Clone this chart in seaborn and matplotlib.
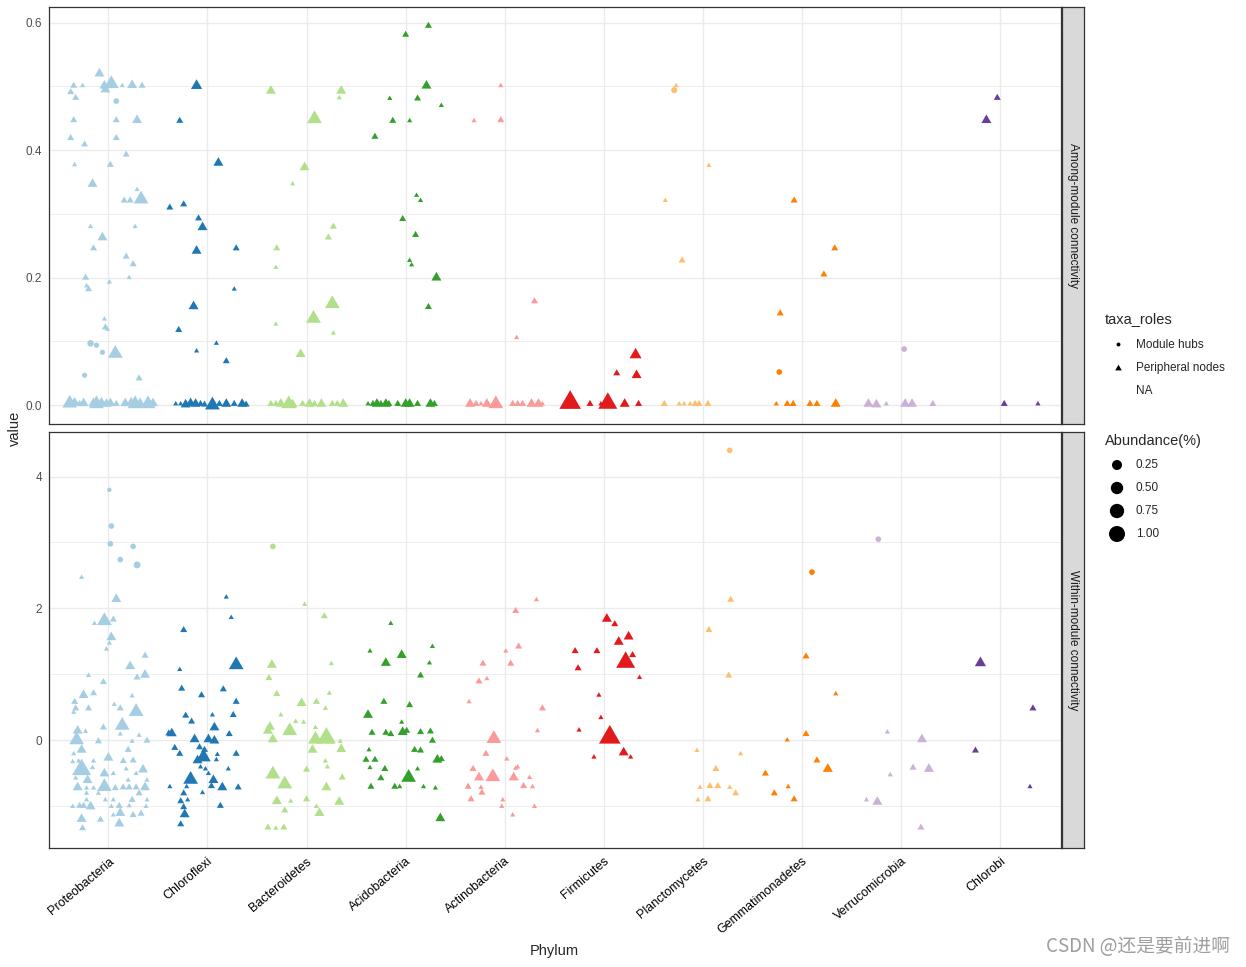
import matplotlib
matplotlib.use("Agg")
import matplotlib.pyplot as plt
from matplotlib.path import Path
import seaborn as sns
import pandas as pd

PHYLA = ["Proteobacteria", "Chloroflexi", "Bacteroidetes", "Acidobacteria",
         "Actinobacteria", "Firmicutes", "Planctomycetes", "Gemmatimonadetes",
         "Verrucomicrobia", "Chlorobi"]
FACETS = ["Among-module connectivity", "Within-module connectivity"]
ROLES = ["Module hubs", "Peripheral nodes", "NA"]
SIZE_BREAKS = [0.25, 0.50, 0.75, 1.00]

# abundance levels
T, S, M, L, XL, H = 0.03, 0.08, 0.19, 0.45, 0.77, 1.05

# peripheral nodes: (jitter, value, abundance)
AMONG_PROTEO = [
    (-0.09, 0.520, M), (-0.35, 0.501, S), (-0.26, 0.501, T), (-0.04, 0.501, M),
    (0.03, 0.504, L), (-0.03, 0.495, M), (0.14, 0.501, T), (0.24, 0.502, M),
    (0.34, 0.501, S), (-0.38, 0.491, S), (-0.33, 0.482, S), (-0.35, 0.447, S),
    (0.08, 0.447, S), (0.29, 0.447, M), (-0.38, 0.419, S), (0.08, 0.419, S),
    (-0.24, 0.409, S), (0.18, 0.393, S), (-0.34, 0.377, T), (0.02, 0.377, S),
    (-0.16, 0.347, M), (0.29, 0.338, T), (0.16, 0.321, S), (0.22, 0.321, S),
    (0.33, 0.323, L), (-0.18, 0.280, T), (0.27, 0.280, T), (-0.06, 0.263, M),
    (-0.15, 0.246, S), (0.18, 0.233, S), (0.25, 0.221, S), (-0.23, 0.200, S),
    (0.21, 0.200, T), (-0.22, 0.187, T), (-0.20, 0.182, S), (0.01, 0.193, T),
    (-0.04, 0.135, T), (-0.03, 0.122, S), (-0.01, 0.119, T), (0.07, 0.081, L),
    (0.31, 0.042, S),
    (-0.39, 0.003, L), (-0.34, 0.004, M), (-0.29, 0.002, S), (-0.25, 0.003, M),
    (-0.15, 0.003, M), (-0.12, 0.002, L), (-0.07, 0.004, M), (-0.02, 0.002, M),
    (0.02, 0.003, M), (0.08, 0.002, S), (0.17, 0.003, M), (0.23, 0.004, M),
    (0.27, 0.002, L), (0.32, 0.003, M), (0.40, 0.002, L), (0.45, 0.003, M),
]
AMONG_CHLOROFLEXI = [
    (-0.11, 0.501, 0.25), (-0.28, 0.446, S), (0.11, 0.380, M), (-0.38, 0.310, S),
    (-0.24, 0.315, S), (-0.09, 0.293, S), (-0.05, 0.279, M), (-0.11, 0.242, M),
    (0.29, 0.246, S), (0.27, 0.182, T), (-0.14, 0.155, M), (-0.29, 0.118, S),
    (0.09, 0.097, T), (-0.11, 0.085, T), (0.19, 0.069, S),
    (-0.32, 0.002, T), (-0.27, 0.002, T), (-0.22, 0.001, M), (-0.17, 0.003, M),
    (-0.12, 0.002, M), (-0.07, 0.002, S), (-0.03, 0.001, S), (0.05, 0.000, L),
    (0.12, 0.002, S), (0.19, 0.002, M), (0.27, 0.002, S), (0.35, 0.002, M),
    (0.39, 0.001, S),
]
AMONG_BACTEROIDETES = [
    (-0.36, 0.493, M), (0.35, 0.493, M), (0.33, 0.482, T), (0.08, 0.449, L),
    (-0.02, 0.373, M), (-0.14, 0.347, T), (0.27, 0.280, S), (0.22, 0.263, S),
    (-0.30, 0.246, S), (-0.31, 0.216, T), (0.26, 0.159, L), (0.07, 0.136, L),
    (-0.31, 0.127, T), (0.27, 0.113, T), (-0.06, 0.080, M),
    (-0.36, 0.002, S), (-0.31, 0.002, S), (-0.26, 0.002, M), (-0.18, 0.002, L),
    (-0.14, 0.001, M), (-0.04, 0.002, S), (0.03, 0.002, M), (0.08, 0.002, S),
    (0.15, 0.002, M), (0.26, 0.002, S), (0.31, 0.002, S), (0.37, 0.002, M),
]
AMONG_ACIDOBACTERIA = [
    (0.23, 0.595, S), (0.00, 0.581, S), (0.21, 0.501, M), (-0.16, 0.481, T),
    (0.12, 0.481, S), (0.36, 0.470, T), (-0.13, 0.446, S), (0.04, 0.446, T),
    (-0.31, 0.421, S), (0.11, 0.329, T), (0.15, 0.321, T), (-0.03, 0.292, S),
    (0.10, 0.267, S), (0.04, 0.227, T), (0.06, 0.220, T), (0.31, 0.200, M),
    (0.23, 0.154, S),
    (-0.38, 0.002, T), (-0.33, 0.002, S), (-0.29, 0.002, M), (-0.25, 0.002, S),
    (-0.20, 0.002, M), (-0.17, 0.002, S), (-0.08, 0.002, S), (0.00, 0.002, M),
    (0.04, 0.002, M), (0.12, 0.002, S), (0.25, 0.002, M), (0.29, 0.002, S),
]
AMONG_ACTINOBACTERIA = [
    (-0.04, 0.501, T), (-0.31, 0.446, T), (-0.04, 0.447, S), (0.30, 0.163, S),
    (0.12, 0.106, T),
    (-0.35, 0.002, M), (-0.29, 0.002, S), (-0.24, 0.002, T), (-0.18, 0.002, M),
    (-0.09, 0.002, L), (0.08, 0.002, S), (0.13, 0.002, S), (0.18, 0.002, S),
    (0.27, 0.002, M), (0.34, 0.002, M), (0.38, 0.002, T),
]
AMONG_FIRMICUTES = [
    (0.32, 0.079, 0.29), (0.13, 0.050, S), (0.33, 0.047, M),
    (-0.34, 0.004, H), (-0.14, 0.002, S), (-0.03, 0.002, T), (0.04, 0.003, XL),
    (0.21, 0.002, M), (0.35, 0.002, S),
]
AMONG_PLANCTOMYCETES = [
    (-0.27, 0.501, T), (0.06, 0.376, T), (-0.38, 0.321, T), (-0.21, 0.227, S),
    (-0.39, 0.002, S), (-0.24, 0.002, T), (-0.19, 0.002, T), (-0.13, 0.002, T),
    (-0.08, 0.002, S), (-0.04, 0.002, S), (0.05, 0.002, S),
]
AMONG_GEMMATIMONADETES = [
    (-0.08, 0.321, S), (0.33, 0.246, S), (0.22, 0.205, S), (-0.22, 0.144, S),
    (-0.26, 0.002, T), (-0.15, 0.002, S), (-0.09, 0.002, S), (0.08, 0.002, S),
    (0.15, 0.002, S), (0.34, 0.002, M),
]
AMONG_VERRUCOMICROBIA = [
    (-0.33, 0.002, M), (-0.25, 0.001, M), (-0.15, 0.002, T), (0.04, 0.002, M),
    (0.11, 0.002, M), (0.32, 0.002, S),
]
AMONG_CHLOROBI = [
    (-0.03, 0.482, S), (-0.14, 0.447, M), (0.04, 0.002, S), (0.38, 0.002, T),
]

WITHIN_PROTEO = [
    (-0.27, 2.47, T), (0.08, 2.14, M), (-0.14, 1.77, T), (-0.04, 1.81, L),
    (0.05, 1.83, S), (0.03, 1.56, M), (0.01, 1.47, T), (-0.02, 1.38, T),
    (0.37, 1.28, S), (0.22, 1.12, M), (-0.20, 0.98, T), (0.29, 0.95, S),
    (0.37, 0.99, M), (-0.05, 0.88, S), (-0.25, 0.68, M), (-0.15, 0.71, S),
    (0.24, 0.67, T), (-0.34, 0.58, S), (-0.33, 0.48, S), (-0.35, 0.42, T),
    (-0.20, 0.48, S), (0.06, 0.54, T), (0.12, 0.48, S), (0.28, 0.43, L),
    (0.14, 0.22, L), (-0.31, 0.14, M), (-0.23, 0.13, T), (-0.05, 0.19, S),
    (0.12, 0.09, T), (0.31, 0.07, T), (-0.32, 0.00, L), (-0.10, -0.02, S),
    (0.24, -0.02, T), (0.39, -0.01, S), (-0.35, -0.21, T), (-0.27, -0.15, M),
    (0.00, -0.27, M), (0.20, -0.15, S), (-0.36, -0.33, T), (-0.30, -0.32, T),
    (-0.15, -0.32, T), (0.15, -0.32, S), (0.25, -0.31, S), (-0.27, -0.45, XL),
    (-0.16, -0.42, T), (-0.04, -0.51, M), (0.05, -0.51, T), (0.18, -0.44, T),
    (0.28, -0.51, T), (0.35, -0.45, M), (0.39, -0.61, T), (-0.33, -0.58, T),
    (-0.21, -0.61, M), (0.20, -0.61, T), (-0.31, -0.72, M), (-0.22, -0.73, T),
    (-0.15, -0.73, T), (-0.04, -0.71, L), (0.07, -0.73, S), (0.15, -0.72, S),
    (0.21, -0.72, S), (0.28, -0.72, S), (0.37, -0.72, M), (-0.22, -0.81, T),
    (-0.10, -0.81, T), (0.31, -0.81, S), (-0.22, -0.91, T), (-0.03, -0.91, T),
    (0.05, -0.91, T), (0.24, -0.91, S), (0.39, -0.91, T), (-0.36, -1.01, T),
    (-0.29, -1.00, S), (-0.25, -1.00, S), (-0.18, -1.01, M), (0.03, -1.01, T),
    (0.11, -1.00, S), (0.21, -1.00, T), (0.38, -1.01, T), (0.12, -1.11, M),
    (0.05, -1.14, T), (0.25, -1.14, S), (0.33, -1.12, S), (-0.27, -1.20, M),
    (-0.08, -1.21, S), (0.11, -1.27, M), (-0.26, -1.34, S),
]
WITHIN_CHLOROFLEXI = [
    (0.19, 2.17, T), (0.24, 1.86, T), (-0.24, 1.67, S), (0.29, 1.14, L),
    (-0.28, 1.07, T), (-0.26, 0.78, S), (-0.06, 0.68, S), (0.16, 0.77, S),
    (0.29, 0.58, S), (-0.22, 0.37, S), (0.05, 0.38, T), (0.26, 0.38, S),
    (-0.16, 0.28, S), (0.07, 0.19, M), (-0.39, 0.10, S), (-0.36, 0.10, M),
    (0.22, 0.09, S), (-0.13, 0.01, M), (0.01, 0.01, M), (0.07, -0.01, M),
    (-0.33, -0.12, S), (-0.08, -0.11, S), (-0.03, -0.15, S), (-0.28, -0.21, S),
    (-0.04, -0.26, L), (0.10, -0.22, T), (0.29, -0.21, S), (-0.10, -0.31, M),
    (0.09, -0.30, T), (-0.07, -0.41, T), (-0.02, -0.44, T), (0.01, -0.51, T),
    (0.21, -0.44, T), (-0.17, -0.60, L), (0.06, -0.61, M), (-0.38, -0.71, T),
    (-0.21, -0.71, T), (0.04, -0.70, S), (0.15, -0.72, M), (0.31, -0.72, S),
    (-0.24, -0.81, S), (-0.05, -0.80, T), (-0.27, -0.93, S), (-0.20, -0.91, T),
    (0.13, -1.00, S), (-0.24, -1.02, S), (-0.23, -1.13, M), (-0.27, -1.28, S),
]
WITHIN_BACTEROIDETES = [
    (-0.02, 2.06, T), (0.18, 1.88, S), (-0.35, 1.14, M), (0.25, 1.16, T),
    (-0.38, 0.94, S), (-0.30, 0.70, S), (0.23, 0.71, T), (-0.05, 0.56, M),
    (0.10, 0.58, S), (-0.26, 0.38, T), (0.19, 0.48, T), (-0.11, 0.28, T),
    (-0.03, 0.27, T), (-0.37, 0.20, M), (-0.17, 0.14, L), (0.09, 0.19, T),
    (-0.39, 0.14, M), (-0.34, 0.01, M), (0.09, 0.01, L), (0.20, 0.03, XL),
    (0.23, -0.01, M), (0.34, -0.02, T), (0.06, -0.15, M), (0.35, -0.14, M),
    (0.19, -0.32, T), (0.21, -0.41, T), (0.00, -0.45, S), (-0.34, -0.52, L),
    (-0.22, -0.67, L), (0.36, -0.57, S), (0.20, -0.72, M), (-0.30, -0.93, M),
    (-0.16, -0.93, T), (0.00, -0.90, S), (0.33, -0.94, M), (-0.22, -1.07, S),
    (0.10, -1.01, T), (0.13, -1.11, M), (-0.39, -1.33, S), (-0.31, -1.34, T),
    (-0.23, -1.33, S),
]
WITHIN_ACIDOBACTERIA = [
    (-0.15, 1.77, T), (-0.36, 1.35, T), (0.27, 1.42, T), (-0.04, 1.29, M),
    (-0.20, 1.17, M), (0.24, 1.17, T), (0.15, 0.98, S), (-0.22, 0.58, S),
    (0.04, 0.53, S), (-0.38, 0.38, M), (-0.04, 0.27, T), (-0.34, 0.11, S),
    (-0.20, 0.11, S), (-0.15, 0.09, S), (-0.03, 0.12, M), (0.01, 0.14, S),
    (0.15, 0.12, S), (0.25, 0.13, S), (0.27, -0.01, S), (-0.37, -0.15, T),
    (0.09, -0.15, S), (0.15, -0.16, S), (-0.40, -0.30, S), (-0.31, -0.30, S),
    (0.32, -0.30, M), (0.36, -0.29, S), (-0.36, -0.42, T), (-0.21, -0.44, S),
    (0.12, -0.44, T), (-0.25, -0.58, S), (0.03, -0.57, L), (-0.35, -0.71, S),
    (-0.11, -0.71, S), (-0.06, -0.71, T), (0.18, -0.71, T), (0.30, -0.73, T),
    (0.35, -1.19, M),
]
WITHIN_ACTINOBACTERIA = [
    (0.32, 2.13, T), (0.11, 1.96, S), (0.01, 1.35, T), (0.14, 1.42, S),
    (-0.22, 1.16, S), (0.06, 1.16, S), (-0.26, 0.89, S), (-0.18, 0.93, T),
    (-0.36, 0.58, T), (0.38, 0.48, S), (0.33, 0.14, T), (-0.11, 0.02, L),
    (-0.19, -0.21, S), (0.02, -0.29, T), (-0.32, -0.44, S), (-0.26, -0.57, M),
    (-0.12, -0.56, L), (0.09, -0.57, M), (0.11, -0.43, T), (0.13, -0.41, T),
    (0.25, -0.57, T), (-0.37, -0.71, S), (-0.24, -0.72, T), (0.19, -0.70, S),
    (0.28, -0.71, T), (-0.23, -0.80, S), (-0.34, -0.90, S), (-0.02, -0.91, T),
    (-0.03, -1.01, T), (0.30, -1.01, T), (0.08, -1.14, T),
]
WITHIN_FIRMICUTES = [
    (0.03, 1.84, M), (0.11, 1.76, S), (0.15, 1.49, M), (0.25, 1.57, M),
    (-0.29, 1.35, S), (-0.07, 1.35, S), (0.29, 1.29, S), (0.22, 1.18, XL),
    (-0.26, 1.09, S), (0.36, 0.95, T), (-0.05, 0.68, T), (-0.03, 0.34, T),
    (-0.25, 0.15, T), (0.06, 0.04, H), (0.20, -0.19, M), (-0.10, -0.26, T),
    (0.27, -0.26, T),
]
WITHIN_PLANCTOMYCETES = [
    (0.28, 2.13, S), (0.06, 1.67, S), (0.26, 0.98, S), (-0.06, -0.16, T),
    (0.38, -0.21, T), (0.13, -0.44, S), (-0.03, -0.72, T), (0.07, -0.70, S),
    (0.15, -0.70, S), (0.27, -0.72, T), (0.33, -0.81, S), (-0.05, -0.91, T),
    (0.05, -0.90, S),
]
WITHIN_GEMMATIMONADETES = [
    (0.04, 1.27, S), (0.34, 0.70, T), (0.04, 0.09, S), (-0.15, 0.00, T),
    (0.15, -0.31, S), (0.26, -0.44, M), (-0.37, -0.51, S), (-0.14, -0.71, T),
    (-0.28, -0.81, S), (-0.08, -0.90, S),
]
WITHIN_VERRUCOMICROBIA = [
    (-0.14, 0.12, T), (0.21, 0.01, M), (-0.11, -0.53, T), (0.12, -0.42, S),
    (0.28, -0.44, M), (-0.35, -0.91, T), (-0.24, -0.94, M), (0.20, -1.33, S),
]
WITHIN_CHLOROBI = [
    (-0.20, 1.17, 0.25), (0.33, 0.48, S), (-0.25, -0.16, S), (0.30, -0.71, T),
]

# module hubs: (phylum, jitter, value, abundance)
HUBS_AMONG = [
    ("Proteobacteria", 0.08, 0.477, 0.10), ("Proteobacteria", -0.18, 0.097, 0.14),
    ("Proteobacteria", -0.12, 0.094, 0.08), ("Proteobacteria", -0.06, 0.083, 0.08),
    ("Proteobacteria", -0.24, 0.047, 0.08), ("Planctomycetes", -0.29, 0.494, 0.12),
    ("Gemmatimonadetes", -0.23, 0.052, 0.10), ("Verrucomicrobia", 0.03, 0.088, 0.10),
]
HUBS_WITHIN = [
    ("Proteobacteria", 0.01, 3.80, 0.05), ("Proteobacteria", 0.03, 3.25, 0.10),
    ("Proteobacteria", 0.02, 2.98, 0.10), ("Proteobacteria", 0.25, 2.94, 0.10),
    ("Proteobacteria", 0.12, 2.74, 0.10), ("Proteobacteria", 0.29, 2.66, 0.16),
    ("Bacteroidetes", -0.34, 2.94, 0.10), ("Planctomycetes", 0.27, 4.40, 0.10),
    ("Gemmatimonadetes", 0.10, 2.55, 0.10), ("Verrucomicrobia", -0.23, 3.05, 0.10),
]

AMONG = dict(zip(PHYLA, [AMONG_PROTEO, AMONG_CHLOROFLEXI, AMONG_BACTEROIDETES,
                         AMONG_ACIDOBACTERIA, AMONG_ACTINOBACTERIA, AMONG_FIRMICUTES,
                         AMONG_PLANCTOMYCETES, AMONG_GEMMATIMONADETES,
                         AMONG_VERRUCOMICROBIA, AMONG_CHLOROBI]))
WITHIN = dict(zip(PHYLA, [WITHIN_PROTEO, WITHIN_CHLOROFLEXI, WITHIN_BACTEROIDETES,
                          WITHIN_ACIDOBACTERIA, WITHIN_ACTINOBACTERIA, WITHIN_FIRMICUTES,
                          WITHIN_PLANCTOMYCETES, WITHIN_GEMMATIMONADETES,
                          WITHIN_VERRUCOMICROBIA, WITHIN_CHLOROBI]))


def make_frame(per_phylum, hubs):
    rows = []
    for name, pts in per_phylum.items():
        for jit, val, ab in pts:
            rows.append((name, PHYLA.index(name) + 1 + jit, val, ab, "Peripheral nodes"))
    for name, jit, val, ab in hubs:
        rows.append((name, PHYLA.index(name) + 1 + jit, val, ab, "Module hubs"))
    return pd.DataFrame(rows, columns=["Phylum", "pos", "value", "abundance", "taxa_roles"])


frames = [make_frame(AMONG, HUBS_AMONG), make_frame(WITHIN, HUBS_WITHIN)]

sns.set_theme(style="white")
plt.rcParams["font.family"] = ["Liberation Sans", "DejaVu Sans"]

pal = dict(zip(PHYLA, sns.color_palette("Paired", 10)))
TRI = Path([(0, 0.577), (-0.5, -0.289), (0.5, -0.289), (0, 0.577)], closed=True)
TRI_SIZES = (9, 322)
DOT_SIZES = (3.7, 133)

W, Hpx = 1246, 967
fig = plt.figure(figsize=(W / 100, Hpx / 100), dpi=100)


def rect(x0, y0, x1, y1):
    return [x0 / W, 1 - y1 / Hpx, (x1 - x0) / W, (y1 - y0) / Hpx]


panels = [rect(49.3, 7.3, 1060.7, 424.0), rect(49.3, 431.7, 1060.7, 848.3)]
strips = [rect(1061.5, 7.3, 1084.3, 424.0), rect(1061.5, 431.7, 1084.3, 848.3)]
ylims = [(-0.0295, 0.624), (-1.645, 4.683)]
major = [[0.0, 0.2, 0.4, 0.6], [0, 2, 4]]
minor = [[0.1, 0.3, 0.5], [-1, 1, 3]]
ylabels = [["0.0", "0.2", "0.4", "0.6"], ["0", "2", "4"]]

for i, df in enumerate(frames):
    ax = fig.add_axes(panels[i])
    ax.set_axisbelow(True)
    tri = df[df["taxa_roles"] == "Peripheral nodes"]
    hub = df[df["taxa_roles"] == "Module hubs"]
    sns.scatterplot(data=tri, x="pos", y="value", hue="Phylum", palette=pal,
                    size="abundance", sizes=TRI_SIZES, size_norm=(0, 1),
                    marker=TRI, linewidth=0, legend=False, ax=ax)
    sns.scatterplot(data=hub, x="pos", y="value", hue="Phylum", palette=pal,
                    size="abundance", sizes=DOT_SIZES, size_norm=(0, 1),
                    marker="o", linewidth=0, legend=False, ax=ax)
    ax.set_xlim(0.404, 10.61)
    ax.set_ylim(*ylims[i])
    ax.set_xticks(range(1, 11))
    ax.set_yticks(major[i])
    ax.set_yticks(minor[i], minor=True)
    ax.set_yticklabels(ylabels[i])
    ax.grid(True, which="major", color="#EBEBEB", lw=1.0)
    ax.grid(True, which="minor", axis="y", color="#EBEBEB", lw=0.6)
    for sp in ax.spines.values():
        sp.set_color("#333333")
        sp.set_linewidth(0.9)
    ax.tick_params(axis="y", which="major", length=3, width=0.8, color="#333333",
                   labelsize=8.5, labelcolor="#4D4D4D", pad=2)
    ax.tick_params(axis="y", which="minor", length=0)
    ax.set_xlabel("")
    ax.set_ylabel("")
    if i == 0:
        ax.tick_params(axis="x", length=0, labelbottom=False)
    else:
        ax.tick_params(axis="x", length=3, width=0.8, color="#333333",
                       labelsize=9, labelcolor="black", pad=2)
        ax.set_xticklabels(PHYLA, rotation=40, ha="right", va="top",
                           rotation_mode="anchor")

    st = fig.add_axes(strips[i])
    st.set_facecolor("#D9D9D9")
    st.set_xticks([])
    st.set_yticks([])
    for sp in st.spines.values():
        sp.set_color("#333333")
        sp.set_linewidth(0.9)
    st.text(0.5, 0.5, FACETS[i], rotation=-90, ha="center", va="center",
            fontsize=8.5, color="#1A1A1A", transform=st.transAxes)

fig.text(15 / W, 1 - 428 / Hpx, "value", rotation=90, ha="center", va="center",
         fontsize=10.5)
fig.text(554 / W, 1 - 951 / Hpx, "Phylum", ha="center", va="center", fontsize=10.5)

# legends, laid out in pixel coordinates
lax = fig.add_axes(rect(1090, 290, 1246, 560))
lax.text(1105, 319, "taxa_roles", ha="left", va="center", fontsize=10.5)
lax.scatter([1118], [344], s=8, color="black", marker="o", linewidth=0)
lax.scatter([1118], [368], s=30, color="black", marker=TRI, linewidth=0)
for y, lab in zip([345, 368, 391], ROLES):
    lax.text(1136, y, lab, ha="left", va="center", fontsize=8.5)
lax.text(1105, 441, "Abundance(%)", ha="left", va="center", fontsize=10.5)
key_y = [465, 488, 511, 534]
sns.scatterplot(x=[1117] * 4, y=key_y, size=SIZE_BREAKS, sizes=(52, 133),
                size_norm=(0.25, 1), color="black", linewidth=0, legend=False, ax=lax)
for y, b in zip(key_y, SIZE_BREAKS):
    lax.text(1136, y, f"{b:.2f}", ha="left", va="center", fontsize=8.5)
lax.set_xlim(1090, 1246)
lax.set_ylim(560, 290)
lax.axis("off")

fig.text(1230 / W, 1 - 947 / Hpx, "CSDN @还是要前进啊", ha="right", va="center",
         fontsize=13.5, color="#9E9E9E", family=["Noto Sans CJK SC", "DejaVu Sans"])

fig.savefig("out.png", dpi=100)
